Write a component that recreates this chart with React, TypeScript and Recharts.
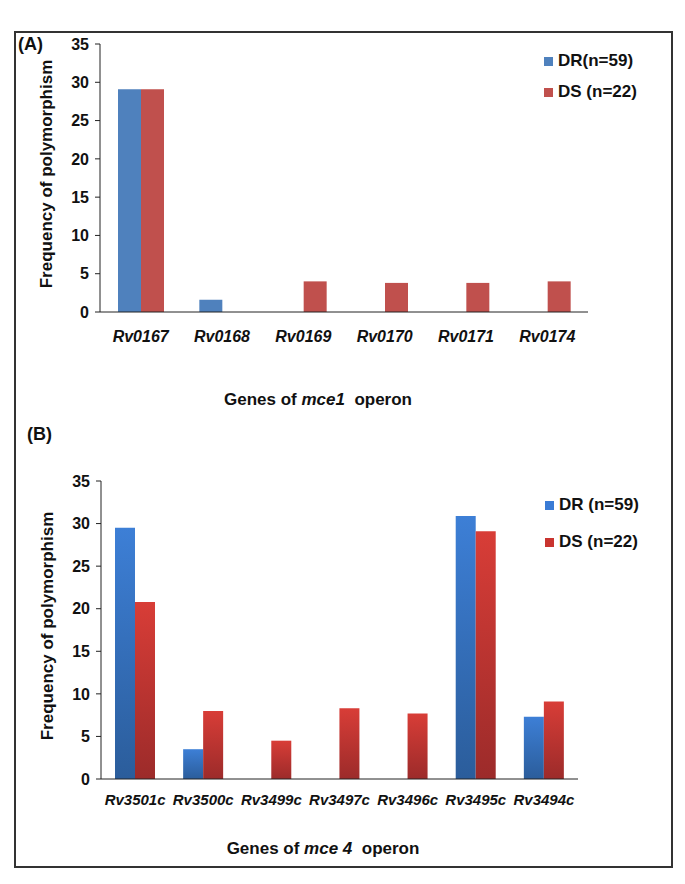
import { BarChart, Bar, XAxis, YAxis, Legend } from "recharts";

const FONT = "'Liberation Sans', Arial, sans-serif";

// (A) mce1 operon
const genesA = ["Rv0167", "Rv0168", "Rv0169", "Rv0170", "Rv0171", "Rv0174"];
const drA = [29.1, 1.6, 0, 0, 0, 0];
const dsA = [29.1, 0, 4.0, 3.8, 3.8, 4.0];

// (B) mce4 operon
const genesB = ["Rv3501c", "Rv3500c", "Rv3499c", "Rv3497c", "Rv3496c", "Rv3495c", "Rv3494c"];
const drB = [29.5, 3.5, 0, 0, 0, 30.9, 7.3];
const dsB = [20.8, 8.0, 4.5, 8.3, 7.7, 29.1, 9.1];

const yTicks = [0, 5, 10, 15, 20, 25, 30, 35];

const dataA = genesA.map((g, i) => ({ gene: g, dr: drA[i], ds: dsA[i] }));
const dataB = genesB.map((g, i) => ({ gene: g, dr: drB[i], ds: dsB[i] }));

const yTitle = (props: any) => {
    const vb = props.viewBox;
    const cx = vb.x + 6;
    const cy = vb.y + vb.height / 2 - 4;
    return (
        <text
            x={cx}
            y={cy}
            transform={`rotate(-90 ${cx} ${cy})`}
            textAnchor="middle"
            dominantBaseline="central"
            fontSize={17}
            fontWeight="bold"
            fill="#111"
            fontFamily={FONT}
        >
            Frequency of polymorphism
        </text>
    );
};

const xTitle = (op: string, dx: number, dy: number) => (props: any) => {
    const vb = props.viewBox;
    return (
        <text
            x={vb.x + dx}
            y={vb.y + dy}
            textAnchor="middle"
            dominantBaseline="central"
            fontSize={17}
            fontWeight="bold"
            fill="#111"
            fontFamily={FONT}
            xmlSpace="preserve"
        >
            Genes of <tspan fontStyle="italic">{op}</tspan>{"  "}operon
        </text>
    );
};

const makeLegend = (labels: string[], colors: string[], gap: number) => () => (
    <div style={{ fontFamily: FONT }}>
        {labels.map((l, i) => (
            <div
                key={l}
                style={{ display: "flex", alignItems: "center", height: 20, marginBottom: i === 0 ? gap : 0 }}
            >
                <div style={{ width: 9, height: 9, background: colors[i], marginRight: 5 }} />
                <span style={{ fontSize: 17, fontWeight: "bold", color: "#111", whiteSpace: "pre" }}>{l}</span>
            </div>
        ))}
    </div>
);

const yTick = { fontSize: 16, fontWeight: "bold", fill: "#111", fontFamily: FONT };

export default function App() {
    return (
        <div style={{ position: "absolute", left: 0, top: 0, width: 685, height: 884, background: "#fff", fontFamily: FONT }}>
            <div
                style={{
                    position: "absolute",
                    left: 14,
                    top: 31,
                    width: 655,
                    height: 833,
                    border: "2px solid #333",
                }}
            />
            <div style={{ position: "absolute", left: 18, top: 34, fontSize: 18, fontWeight: "bold", color: "#111" }}>(A)</div>
            <div style={{ position: "absolute", left: 27, top: 424, fontSize: 18, fontWeight: "bold", color: "#111" }}>(B)</div>

            <div style={{ position: "absolute", left: 0, top: 0 }}>
                <BarChart
                    width={685}
                    height={420}
                    data={dataA}
                    margin={{ top: 44, right: 97, bottom: 0, left: 40 }}
                    barGap={0}
                    barSize={23}
                >
                    <XAxis
                        dataKey="gene"
                        height={108}
                        stroke="#222"
                        tickLine={false}
                        tickMargin={13}
                        interval={0}
                        tick={{ fontSize: 16, fontWeight: "bold", fontStyle: "italic", fill: "#111", fontFamily: FONT }}
                        label={xTitle("mce1", 218, 87)}
                    />
                    <YAxis
                        width={60}
                        domain={[0, 35]}
                        ticks={yTicks}
                        stroke="#222"
                        tickSize={5}
                        tickMargin={6}
                        tick={yTick}
                        label={yTitle}
                    />
                    <Legend
                        layout="vertical"
                        align="center"
                        verticalAlign="middle"
                        content={makeLegend(["DR(n=59)", "DS (n=22)"], ["#4F81BD", "#C0504D"], 11)}
                        wrapperStyle={{ position: "absolute", left: 544, top: 51, width: 130 }}
                    />
                    <Bar dataKey="dr" name="DR(n=59)" fill="#4F81BD" isAnimationActive={false} />
                    <Bar dataKey="ds" name="DS (n=22)" fill="#C0504D" isAnimationActive={false} />
                </BarChart>
            </div>

            <div style={{ position: "absolute", left: 0, top: 420 }}>
                <BarChart
                    width={685}
                    height={464}
                    data={dataB}
                    margin={{ top: 61, right: 107, bottom: 0, left: 41 }}
                    barGap={0}
                    barSize={20}
                >
                    <defs>
                        <linearGradient id="gradDR" x1="0" y1="0" x2="0" y2="1">
                            <stop offset="0%" stopColor="#3D7FD6" />
                            <stop offset="100%" stopColor="#2B5D9B" />
                        </linearGradient>
                        <linearGradient id="gradDS" x1="0" y1="0" x2="0" y2="1">
                            <stop offset="0%" stopColor="#D83D37" />
                            <stop offset="100%" stopColor="#9C2B2A" />
                        </linearGradient>
                    </defs>
                    <XAxis
                        dataKey="gene"
                        height={105}
                        stroke="#222"
                        tickLine={false}
                        tickMargin={9}
                        interval={0}
                        tick={{ fontSize: 15, fontWeight: "bold", fontStyle: "italic", fill: "#111", fontFamily: FONT }}
                        label={xTitle("mce 4", 222, 69)}
                    />
                    <YAxis
                        width={60}
                        domain={[0, 35]}
                        ticks={yTicks}
                        stroke="#222"
                        tickSize={5}
                        tickMargin={6}
                        tick={yTick}
                        label={yTitle}
                    />
                    <Legend
                        layout="vertical"
                        align="center"
                        verticalAlign="middle"
                        content={makeLegend(["DR (n=59)", "DS (n=22)"], ["#3A7BD5", "#C9342F"], 17)}
                        wrapperStyle={{ position: "absolute", left: 545, top: 75, width: 135 }}
                    />
                    <Bar dataKey="dr" name="DR (n=59)" fill="url(#gradDR)" isAnimationActive={false} />
                    <Bar dataKey="ds" name="DS (n=22)" fill="url(#gradDS)" isAnimationActive={false} />
                </BarChart>
            </div>
        </div>
    );
}
